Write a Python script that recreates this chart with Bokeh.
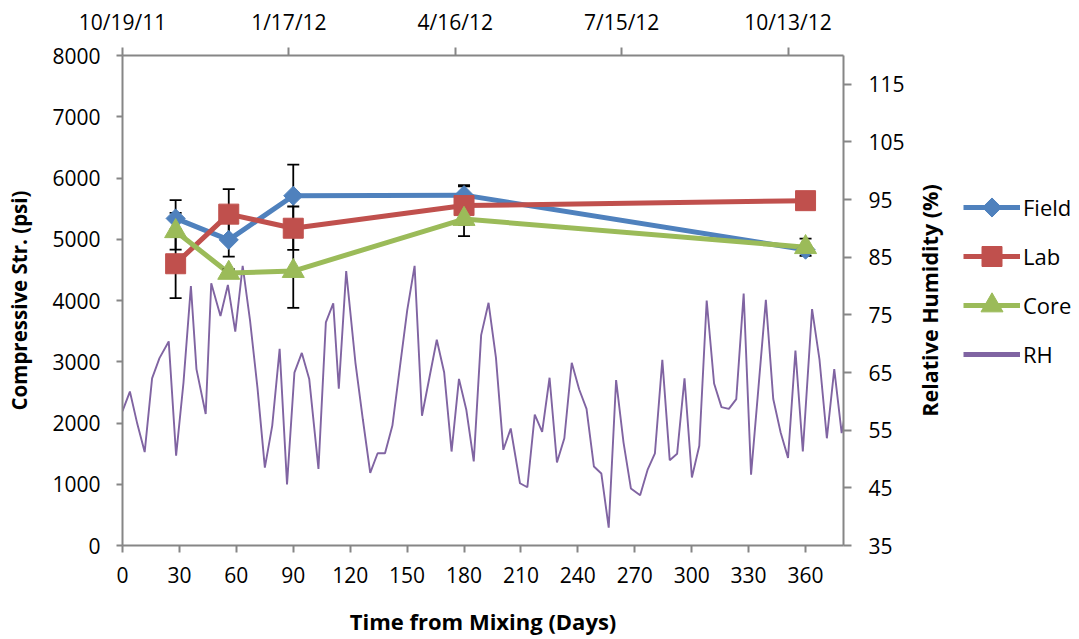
import math
from bokeh.plotting import figure
from bokeh.layouts import row
from bokeh.models import Range1d, LinearAxis, FixedTicker, Legend, LegendItem, Label
from bokeh.embed import file_html
from bokeh.resources import INLINE

# ---------------- data ----------------
days = [28, 56, 90, 180, 360]
field = [5340, 4990, 5710, 5720, 4830]
lab = [4600, 5410, 5180, 5550, 5630]
core = [5130, 4450, 4480, 5330, 4870]
field_err = [300, 275, 510, 165, 60]
lab_err = [560, 410, 355, 315, 0]
core_err = [300, 60, 600, 280, 140]

# RH: days since 10/19/11 (top axis) and relative humidity (%)
rh_days = [0, 4, 8, 12, 16, 20, 25, 29, 33, 37, 40, 45, 48, 53, 57, 61, 65, 69, 73, 77,
           81, 85, 89, 93, 97, 101, 106, 110, 114, 117, 121, 126, 130, 134, 138, 142, 146, 150, 154, 158,
           162, 166, 170, 174, 178, 182, 186, 190, 194, 198, 202, 206, 210, 215, 219, 223, 227, 231, 235, 239,
           243, 247, 251, 255, 259, 263, 267, 271, 275, 280, 284, 288, 292, 296, 300, 304, 308, 312, 316, 320,
           324, 328, 332, 336, 340, 344, 348, 352, 356, 360, 364, 368, 373, 377, 381, 385, 389, 393]
rh = [58.3, 61.7, 56.1, 51.2, 64.0, 67.5, 70.4, 50.6, 63.3, 80.0,
      65.6, 57.8, 80.5, 74.8, 80.2, 72.1, 83.5, 74.0, 62.4, 48.5,
      55.8, 69.1, 45.6, 65.0, 68.4, 63.9, 48.3, 73.7, 77.0, 62.2,
      82.6, 66.7, 56.9, 47.6, 51.0, 51.0, 55.8, 65.8, 75.8, 83.5,
      57.5, 64.1, 70.7, 65.0, 51.3, 63.9, 58.5, 49.6,
      71.5, 77.1, 67.6, 51.6, 55.3, 45.8, 45.1, 57.7, 54.7, 64.1,
      49.4, 53.6, 66.7, 62.1, 58.7, 48.7, 47.5, 38.1, 63.7, 52.9,
      44.9, 43.7, 48.1, 51.0, 67.2, 49.8, 50.9, 64.0, 46.8, 52.3,
      77.5, 63.1, 59.0, 58.7, 60.4, 78.7, 47.3, 62.4, 77.6, 60.4,
      54.6, 50.2, 68.8, 51.3, 76.0, 67.3, 53.6, 65.6, 54.5, 61.5]

x_ticks = list(range(0, 361, 30))
y_ticks = list(range(0, 8001, 1000))
rh_ticks = [35, 45, 55, 65, 75, 85, 95, 105, 115]
top_ticks = [0, 90, 180, 270, 360]
top_labels = ["10/19/11", "1/17/12", "4/16/12", "7/15/12", "10/13/12"]

# ---------------- style ----------------
FONT = "Open Sans"
AXIS_COLOR = "#868686"
C_FIELD = "#4F81BD"
C_LAB = "#C0504D"
C_CORE = "#9BBB59"
C_RH = "#8064A2"

p = figure(width=912, height=639, output_backend="svg", toolbar_location=None,
           x_range=Range1d(0, 380), y_range=Range1d(0, 8000),
           min_border_left=122, min_border_right=69, min_border_top=55, min_border_bottom=94)
p.outline_line_color = None
p.xgrid.visible = False
p.ygrid.visible = False
p.background_fill_color = "white"
p.border_fill_color = "white"

p.extra_x_ranges = {"top": Range1d(0, 390)}
p.extra_y_ranges = {"rh": Range1d(35, 120)}


def style_axis(ax, out, standoff, title_size="21px"):
    ax.axis_line_color = AXIS_COLOR
    ax.axis_line_width = 2
    ax.major_tick_line_color = AXIS_COLOR
    ax.major_tick_line_width = 2
    ax.major_tick_out = out
    ax.major_tick_in = 0
    ax.minor_tick_line_color = None
    ax.major_label_text_font = FONT
    ax.major_label_text_font_size = "21px"
    ax.major_label_text_color = "black"
    ax.major_label_standoff = standoff
    ax.axis_label_text_font = FONT
    ax.axis_label_text_font_size = title_size
    ax.axis_label_text_font_style = "bold"
    ax.axis_label_text_color = "black"


xa = p.xaxis[0]
xa.ticker = FixedTicker(ticks=x_ticks)
xa.axis_label = "Time from Mixing (Days)"
style_axis(xa, 7, 14, "22px")
xa.axis_label_standoff = 20

ya = p.yaxis[0]
ya.ticker = FixedTicker(ticks=y_ticks)
ya.axis_label = "Compressive Str. (psi)"
style_axis(ya, 6, 16, "20.5px")
ya.axis_label_standoff = 16

top = LinearAxis(x_range_name="top", ticker=FixedTicker(ticks=top_ticks),
                 major_label_overrides={t: l for t, l in zip(top_ticks, top_labels)})
style_axis(top, 8, 12)
p.add_layout(top, "above")

right = LinearAxis(y_range_name="rh", ticker=FixedTicker(ticks=rh_ticks))
style_axis(right, 8, 17)
p.add_layout(right, "right")

# ---------------- glyphs ----------------
p.line(rh_days, rh, x_range_name="top", y_range_name="rh", line_color=C_RH, line_width=1.9)

series = [("Field", field, field_err, C_FIELD, "square", 13.5, math.pi / 4),
          ("Lab", lab, lab_err, C_LAB, "square", 20, 0),
          ("Core", core, core_err, C_CORE, "triangle", 22, 0)]

for name, vals, errs, col, mk, sz, ang in series:
    p.line(days, vals, line_color=col, line_width=5)

for name, vals, errs, col, mk, sz, ang in series:
    lo = [v - e for v, e in zip(vals, errs)]
    hi = [v + e for v, e in zip(vals, errs)]
    p.segment(x0=days, y0=lo, x1=days, y1=hi, line_color="black", line_width=1.8)
    p.scatter(days + days, lo + hi, marker="dash", size=12, line_color="black", line_width=1.8)

for name, vals, errs, col, mk, sz, ang in series:
    p.scatter(days, vals, marker=mk, size=sz, angle=ang,
              fill_color=col, line_color=col, line_width=1)

# ---------------- right-hand panel: axis title + legend ----------------
# Its frame (167 x 490 px) is aligned with the main plot's frame by the row layout;
# ranges are set so that one data unit is one pixel.
PW, PH = 167, 490
p2 = figure(width=PW, height=639, output_backend="svg", toolbar_location=None,
            x_range=Range1d(0, PW), y_range=Range1d(0, PH),
            x_axis_location=None, y_axis_location=None,
            min_border_left=0, min_border_right=0, min_border_top=55, min_border_bottom=94)
p2.outline_line_color = None
p2.xgrid.visible = False
p2.ygrid.visible = False
p2.border_fill_color = "white"
p2.background_fill_color = "white"

p2.add_layout(Label(x=17, y=245, x_units="screen", y_units="screen",
                    text="Relative Humidity (%)", angle=math.pi / 2,
                    text_align="center", text_baseline="middle",
                    text_font=FONT, text_font_size="21.5px", text_font_style="bold",
                    text_color="black"))

# legend geometry
LEG_X, LEG_Y = 51, 176          # bottom-left of the legend block
GLYPH_W, ROW_H, ROW_GAP = 57, 30, 19
n_rows = 4
row_centers = [LEG_Y + (n_rows - 1 - i) * (ROW_H + ROW_GAP) + ROW_H / 2 for i in range(n_rows)]

items = []
for i, (name, vals, errs, col, mk, sz, ang) in enumerate(series):
    lr = p2.line(x=[-50, -40], y=[-50, -40], line_color=col, line_width=5)
    items.append(LegendItem(label=name, renderers=[lr]))
    # marker key drawn on top of the legend line
    p2.scatter(x=[LEG_X + GLYPH_W / 2], y=[row_centers[i]], marker=mk, size=sz, angle=ang,
               fill_color=col, line_color=col, line_width=1)
rr = p2.line(x=[-50, -40], y=[-50, -40], line_color=C_RH, line_width=5)
items.append(LegendItem(label="RH", renderers=[rr]))

legend = Legend(items=items, location=(LEG_X, LEG_Y), orientation="vertical",
                label_text_font=FONT, label_text_font_size="22px", label_text_color="black",
                glyph_width=GLYPH_W, glyph_height=ROW_H, label_height=ROW_H, label_standoff=3,
                spacing=ROW_GAP, padding=0, margin=0, level="underlay",
                border_line_color=None, background_fill_color=None)
p2.add_layout(legend, "center")

layout = row(p, p2)
open("out.html", "w").write(file_html(layout, INLINE))
